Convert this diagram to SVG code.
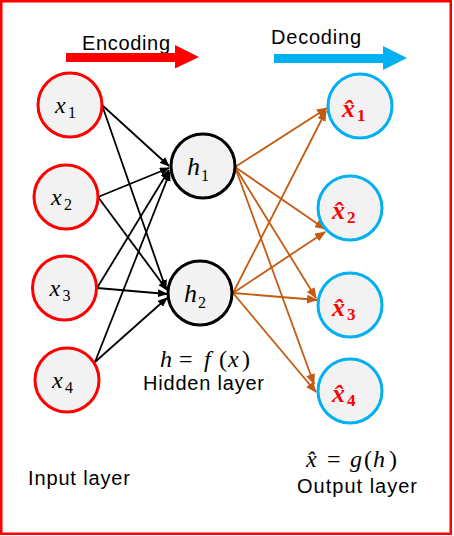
<svg xmlns="http://www.w3.org/2000/svg" width="454" height="536" viewBox="0 0 454 536">
<style>
.in{fill:#f2f2f2;stroke:#ff0000;stroke-width:3}
.hid{fill:#f2f2f2;stroke:#000;stroke-width:3}
.out{fill:#f2f2f2;stroke:#00b0f0;stroke-width:3}
.lbl{font-family:"Liberation Sans",Arial,sans-serif;font-size:20px;fill:#000}
.m{font-family:"Liberation Serif","Times New Roman",serif;fill:#000}
.mi{font-style:italic}
.ol{font-family:"Liberation Serif","Times New Roman",serif;font-weight:bold;font-style:italic;fill:#ff0000}
.enc line{stroke:#000;stroke-width:1.8;marker-end:url(#ah)}
.dec line{stroke:#c55a11;stroke-width:1.8;marker-end:url(#oh)}
</style>
<defs>
<marker id="ah" markerUnits="userSpaceOnUse" markerWidth="10" markerHeight="8" refX="9" refY="4" orient="auto"><path d="M0,0 L10,4 L0,8 z" fill="#000"/></marker>
<marker id="oh" markerUnits="userSpaceOnUse" markerWidth="11" markerHeight="9" refX="10" refY="4.5" orient="auto"><path d="M0,0 L11,4.5 L0,9 z" fill="#c55a11"/></marker>
</defs>
<rect x="1.25" y="1.25" width="449.5" height="532.5" fill="#fff" stroke="#ff0000" stroke-width="2.5"/>

<text class="lbl" x="82" y="50" textLength="88" font-size="21">Encoding</text>
<text class="lbl" x="271" y="44" textLength="90" font-size="21">Decoding</text>
<polygon points="66,53 175,53 175,45 199,57 175,68.5 175,62 66,62" fill="#ff0000"/>
<polygon points="274,54 383,54 383,46 407,58 383,70 383,63 274,63" fill="#00b0f0"/>

<g id="connectors">
<g class="enc">
<line x1="102" y1="105" x2="169" y2="166"/>
<line x1="102" y1="105" x2="166" y2="289"/>
<line x1="98" y1="197" x2="169" y2="168"/>
<line x1="98" y1="197" x2="167" y2="290"/>
<line x1="97" y1="288" x2="169" y2="170"/>
<line x1="97" y1="288" x2="167" y2="294"/>
<line x1="95" y1="362" x2="170" y2="172"/>
<line x1="95" y1="362" x2="167" y2="298"/>
</g>
<g class="dec">
<line x1="235" y1="167" x2="327" y2="108"/>
<line x1="235" y1="167" x2="325" y2="229"/>
<line x1="235" y1="167" x2="316" y2="298"/>
<line x1="235" y1="167" x2="314" y2="384"/>
<line x1="233" y1="293" x2="326" y2="111"/>
<line x1="233" y1="293" x2="325" y2="232"/>
<line x1="233" y1="293" x2="317" y2="300"/>
<line x1="233" y1="293" x2="316" y2="392"/>
</g>
</g>

<g id="x1"><circle class="in" cx="70" cy="105" r="32"/><text class="m"><tspan class="mi" x="55" y="113" font-size="24">x</tspan><tspan x="68" y="118" font-size="16">1</tspan></text></g>
<g id="x2"><circle class="in" cx="66" cy="197" r="32"/><text class="m"><tspan class="mi" x="51" y="205" font-size="24">x</tspan><tspan x="64" y="210" font-size="16">2</tspan></text></g>
<g id="x3"><circle class="in" cx="64.5" cy="288" r="32"/><text class="m"><tspan class="mi" x="49.5" y="296" font-size="24">x</tspan><tspan x="62.5" y="301" font-size="16">3</tspan></text></g>
<g id="x4"><circle class="in" cx="67" cy="380" r="32"/><text class="m"><tspan class="mi" x="52" y="388" font-size="24">x</tspan><tspan x="65" y="393" font-size="16">4</tspan></text></g>

<g id="h1"><circle class="hid" cx="203" cy="166" r="32"/><text class="m"><tspan class="mi" x="187" y="175" font-size="26">h</tspan><tspan x="201" y="181" font-size="16">1</tspan></text></g>
<g id="h2"><circle class="hid" cx="200" cy="293" r="32"/><text class="m"><tspan class="mi" x="184" y="302" font-size="26">h</tspan><tspan x="198" y="308" font-size="16">2</tspan></text></g>

<g id="xh1"><circle class="out" cx="360" cy="106" r="32"/><text class="ol"><tspan x="342" y="117" font-size="26">x̂</tspan><tspan x="357" y="121" font-size="17" font-style="normal">1</tspan></text></g>
<g id="xh2"><circle class="out" cx="350" cy="208" r="32"/><text class="ol"><tspan x="332" y="219" font-size="26">x̂</tspan><tspan x="347" y="223" font-size="17" font-style="normal">2</tspan></text></g>
<g id="xh3"><circle class="out" cx="350" cy="305" r="32"/><text class="ol"><tspan x="332" y="316" font-size="26">x̂</tspan><tspan x="347" y="320" font-size="17" font-style="normal">3</tspan></text></g>
<g id="xh4"><circle class="out" cx="350" cy="391" r="32"/><text class="ol"><tspan x="332" y="402" font-size="26">x̂</tspan><tspan x="347" y="406" font-size="17" font-style="normal">4</tspan></text></g>

<g id="hidden-label">
<text class="m" font-size="24" y="367"><tspan class="mi" x="160">h</tspan><tspan x="179">=</tspan><tspan class="mi" x="204">f</tspan><tspan x="219">(</tspan><tspan class="mi" x="228">x</tspan><tspan x="242">)</tspan></text>
<text class="lbl" x="143" y="390" textLength="121">Hidden layer</text>
</g>
<g id="input-label"><text class="lbl" x="28" y="485" textLength="102">Input layer</text></g>
<g id="output-label">
<text class="m" font-size="24" y="467"><tspan class="mi" x="306">x̂</tspan><tspan x="327">=</tspan><tspan class="mi" x="350">g</tspan><tspan x="364">(</tspan><tspan class="mi" x="373">h</tspan><tspan x="389">)</tspan></text>
<text class="lbl" x="297" y="493" textLength="120">Output layer</text>
</g>
</svg>
